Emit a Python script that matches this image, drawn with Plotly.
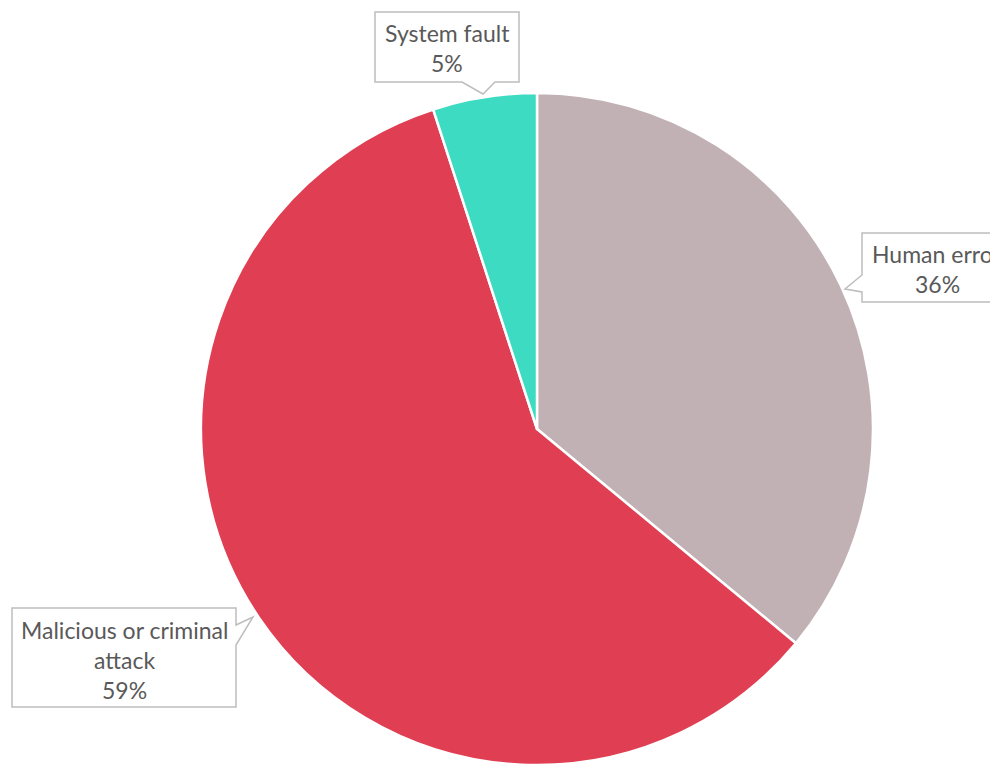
import plotly.graph_objects as go

categories = ["Human error", "Malicious or criminal attack", "System fault"]
values = [36, 59, 5]
colors = ["#C1B1B4", "#E03E52", "#3DDBC2"]
label_lines = [["Human error", "36%"], ["Malicious or criminal", "attack", "59%"], ["System fault", "5%"]]

W, H = 990, 757
OFF = 8  # page body margin

def px(x):
    return (x - OFF) / W

def py(y):
    return 1 - (y - OFF) / H

fig = go.Figure()
fig.add_trace(go.Pie(
    labels=categories, values=values, sort=False, direction="clockwise", rotation=0,
    marker=dict(colors=colors, line=dict(color="white", width=2.5)),
    textinfo="none", hoverinfo="label+percent", showlegend=False,
    domain=dict(x=[px(537 - 336), px(537 + 336)], y=[0, py(93)]),
))

def path(points):
    return "M " + " L ".join(f"{px(x):.5f},{py(y):.5f}" for x, y in points) + " Z"

border = "#BDBDBD"
boxes = [
    [(862, 233), (1015, 233), (1015, 302), (862, 302), (862, 292), (845, 289), (862, 275)],
    [(12, 608), (236, 608), (236, 625), (253, 617), (236, 645), (236, 707), (12, 707)],
    [(375, 12), (519, 12), (519, 82), (495, 82), (483, 94), (462, 82), (375, 82)],
]
for b in boxes:
    fig.add_shape(type="path", path=path(b), xref="paper", yref="paper",
                  line=dict(color=border, width=1.5), fillcolor="white", layer="above")

centers = [(937, [254, 284]), (124, [630, 660, 690]), (447, [33, 63])]
for lines, (cx, ys) in zip(label_lines, centers):
    for t, y in zip(lines, ys):
        fig.add_annotation(x=px(cx), y=py(y), xref="paper", yref="paper", text=t,
                           showarrow=False, xanchor="center", yanchor="middle",
                           font=dict(family="Lato, 'Open Sans', sans-serif", size=23, color="#595959"))

fig.update_layout(width=W, height=H, margin=dict(l=0, r=0, t=0, b=0),
                  paper_bgcolor="white", plot_bgcolor="white")
fig.write_html("out.html")
